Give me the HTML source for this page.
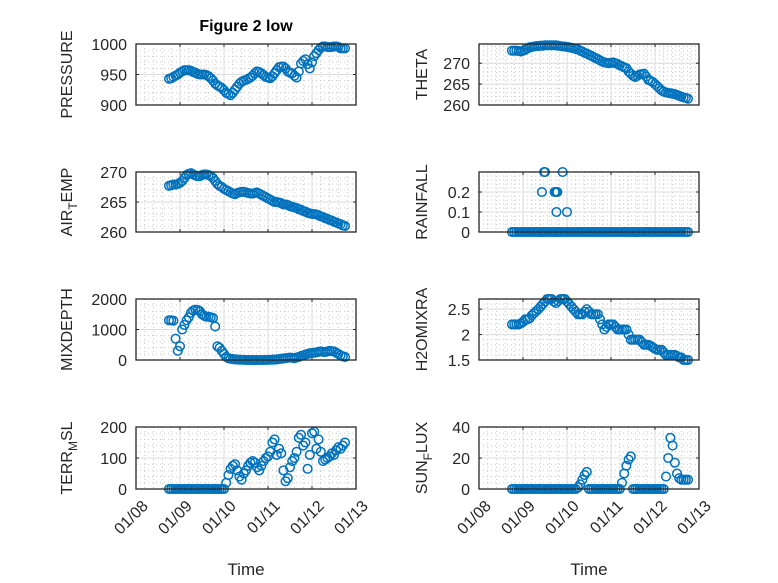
<!DOCTYPE html>
<html><head><meta charset="utf-8">
<style>
html,body{margin:0;padding:0;background:#fff;}
svg{display:block;font-family:"Liberation Sans","DejaVu Sans",sans-serif;}
</style></head>
<body>
<svg id="fig" width="778" height="583" viewBox="0 0 778 583" xmlns="http://www.w3.org/2000/svg">
<rect width="778" height="583" fill="#fff"/>
<text x="246" y="31" text-anchor="middle" font-size="16" font-weight="bold" fill="#000">Figure 2 low</text>
</svg>
<script>
// time categories (days of January), 81 samples every 0.05 day from 8.75
const times = [];
for (let i = 0; i < 81; i++) times.push(8.75 + 0.05 * i);
const xTickLabels = ["01/08","01/09","01/10","01/11","01/12","01/13"];
const xTickValues = [8,9,10,11,12,13];

const pressure = [943,944,946,948,950,953,955,957,957,957,956,954,953,951,950,950,950,949,947,944,940,935,932,930,928,924,920,918,916,920,925,930,935,938,940,941,943,945,948,952,955,954,952,949,946,945,944,947,952,957,962,963,963,960,955,953,952,948,945,955,968,972,975,967,960,970,980,985,990,994,996,996,995,995,995,996,996,995,993,993,993];
const airTemp = [267.7,267.8,267.9,267.9,268.0,268.2,268.5,269.0,269.5,269.7,269.8,269.6,269.4,269.3,269.3,269.5,269.6,269.6,269.5,269.3,269.0,268.5,268.0,267.7,267.5,267.2,267.0,266.8,266.6,266.4,266.3,266.5,266.6,266.7,266.7,266.6,266.5,266.4,266.4,266.5,266.6,266.4,266.2,266.0,265.8,265.6,265.4,265.2,265.0,265.0,264.9,264.8,264.6,264.6,264.5,264.3,264.2,264.1,264.0,263.8,263.7,263.5,263.4,263.2,263.1,263.0,263.0,262.9,262.8,262.6,262.5,262.3,262.2,262.0,261.9,261.7,261.6,261.4,261.3,261.1,261.0];
const mixDepth = [1300,1300,1290,700,300,450,1000,1150,1300,1400,1550,1620,1650,1640,1600,1500,1450,1420,1420,1400,1380,1100,450,400,300,200,100,60,40,30,20,15,10,8,5,3,0,0,0,0,0,0,0,0,3,5,8,10,15,20,30,40,50,60,70,80,70,60,80,100,130,150,180,200,220,230,240,250,270,280,270,260,280,300,290,280,240,200,150,120,100];
const terrMsl = [0,0,0,0,0,0,0,0,0,0,0,0,0,0,0,0,0,0,0,0,0,0,0,0,0,0,20,45,65,75,80,60,40,30,50,60,75,85,90,85,70,60,75,90,100,105,120,150,160,110,130,115,60,25,35,70,90,100,120,165,175,140,150,65,110,180,185,130,160,120,90,95,100,105,115,110,125,135,130,140,150];
const theta = [273.0,273.0,273.0,272.9,272.8,273.0,273.2,273.5,273.8,273.9,274.0,274.1,274.1,274.2,274.2,274.3,274.3,274.3,274.3,274.3,274.3,274.2,274.1,274.0,274.0,273.9,273.8,273.7,273.6,273.4,273.3,273.0,272.8,272.5,272.3,272.0,271.8,271.5,271.2,271.0,270.7,270.4,270.2,270.1,270.0,270.1,270.2,270.0,269.8,269.5,269.3,269.0,268.8,268.0,267.5,267.0,266.7,267.0,267.3,267.4,267.5,266.8,266.0,265.8,265.5,265.0,264.5,264.0,263.5,263.2,263.0,262.9,262.8,262.7,262.6,262.4,262.2,262.0,261.8,261.7,261.5];
const rainfall = [0,0,0,0,0,0,0,0,0, 0,0,0,0,0,0,0,0,0, 0,0,0,0,0,0,0,0,0, 0,0,0,0,0,0,0,0,0, 0,0,0,0,0,0,0,0,0, 0,0,0,0,0,0,0,0,0, 0,0,0,0,0,0,0,0,0, 0,0,0,0,0,0,0,0,0, 0,0,0,0,0,0,0,0,0];
const rainEventTimes = [9.43,9.48,9.50,9.72,9.75,9.78,9.76,9.90,10.0,9.47,9.8];
const rainEventValues = [0.2,0.3,0.3,0.2,0.2,0.2,0.1,0.3,0.1,0,0];
const h2oMixra = [2.2,2.2,2.2,2.2,2.22,2.25,2.3,2.3,2.32,2.38,2.42,2.46,2.5,2.55,2.6,2.65,2.7,2.7,2.7,2.65,2.62,2.66,2.7,2.7,2.7,2.65,2.6,2.55,2.5,2.45,2.4,2.4,2.4,2.45,2.5,2.45,2.4,2.4,2.4,2.4,2.3,2.2,2.1,2.15,2.2,2.2,2.2,2.15,2.1,2.1,2.1,2.1,2.1,2.0,1.9,1.9,1.9,1.9,1.9,1.85,1.8,1.8,1.8,1.78,1.75,1.72,1.7,1.7,1.7,1.65,1.6,1.6,1.6,1.6,1.6,1.58,1.55,1.55,1.5,1.5,1.5];
const sunFlux = [0,0,0,0,0,0,0,0,0,0,0,0,0,0,0,0,0,0,0,0,0,0,0,0,0,0,0,0,0,0,1,3,6,9,11,0,0,0,0,0,0,0,0,0,0,0,0,0,0,0,4,10,15,19,21,0,0,0,0,0,0,0,0,0,0,0,0,0,0,0,8,20,33,28,17,10,7,6,6,6,6];

const pressureTicks = [900,950,1000];
const thetaTicks = [260,265,270];
const airTempTicks = [260,265,270];
const rainTicks = [0,0.1,0.2];
const mixTicks = [0,1000,2000];
const h2oTicks = [1.5,2,2.5];
const terrTicks = [0,100,200];
const sunTicks = [0,20,40];

const NS = "http://www.w3.org/2000/svg";
const svg = document.getElementById('fig');
function mk(tag, attrs, parent){
  const e = document.createElementNS(NS, tag);
  for (const k in attrs) e.setAttribute(k, attrs[k]);
  (parent||svg).appendChild(e);
  return e;
}

const cols = [{l:136,r:356},{l:479,r:699}];
const rows = [{t:44,b:105},{t:172,b:232},{t:299,b:360},{t:427,b:489}];

function panel(opts){
  const c = cols[opts.col], rw = rows[opts.row];
  const g = mk('g', {});
  
  
  const xS = v => c.l + (v - 8) / 5 * (c.r - c.l);
  const yS = v => rw.b - (v - opts.ymin) / (opts.ymax - opts.ymin) * (rw.b - rw.t);
  for (let d = 8; d < 13; d++) {
    for (let k = 1; k < 5; k++) {
      const x = xS(d + k / 5);
      const ln = mk('line', {x1:x, x2:x, y1:rw.t, y2:rw.b, stroke:'#c8c8c8', 'stroke-width':1, 'stroke-dasharray':'1 3'}, g);
      
      
    }
  }
  const step = opts.ticks[1] - opts.ticks[0];
  const mstep = step / 5;
  for (let v = opts.ymin + mstep; v < opts.ymax - 1e-9; v += mstep) {
    const y = yS(v);
    const ln = mk('line', {x1:c.l, x2:c.r, y1:y, y2:y, stroke:'#c8c8c8', 'stroke-width':1, 'stroke-dasharray':'1 3'}, g);
    
    
  }
  xTickValues.forEach(v => {
    const x = xS(v);
    const ln = mk('line', {x1:x, x2:x, y1:rw.t, y2:rw.b, stroke:'#dcdcdc', 'stroke-width':1}, g);
    
    
    const tk = mk('line', {x1:x, x2:x, y1:rw.b, y2:rw.b-3, stroke:'#262626', 'stroke-width':1}, g);
    
    
    const tk2 = mk('line', {x1:x, x2:x, y1:rw.t, y2:rw.t+3, stroke:'#262626', 'stroke-width':1}, g);
    
    
  });
  opts.ticks.forEach(v => {
    const y = yS(v);
    const ln = mk('line', {x1:c.l, x2:c.r, y1:y, y2:y, stroke:'#dcdcdc', 'stroke-width':1}, g);
    
    
    const tk = mk('line', {x1:c.l, x2:c.l+3, y1:y, y2:y, stroke:'#262626', 'stroke-width':1}, g);
    
    
    const tk2 = mk('line', {x1:c.r, x2:c.r-3, y1:y, y2:y, stroke:'#262626', 'stroke-width':1}, g);
    
    
    const t = mk('text', {x:c.l-9, y:y+6, 'text-anchor':'end', 'font-size':16, fill:'#262626'}, g);
    
    
    t.textContent = String(v);
  });
  const pts = mk('g', {}, g);
  
  
  const drawPts = (ts, vs) => {
    ts.forEach((tv, i) => {
      const ci = mk('circle', {cx:xS(tv), cy:yS(vs[i]), r:4.3, fill:'none', stroke:'#0072BD', 'stroke-width':1.5}, pts);
      
      
    });
  };
  drawPts(times, opts.data);
  if (opts.extraT) drawPts(opts.extraT, opts.extraV);
  const bx = mk('rect', {x:c.l, y:rw.t, width:c.r-c.l, height:rw.b-rw.t, fill:'none', stroke:'#262626', 'stroke-width':1.3}, g);
  
  
  const lx = opts.col === 0 ? 72 : 427;
  const ly = (rw.t + rw.b) / 2;
  const yl = mk('text', {x:lx, y:ly, 'text-anchor':'middle', 'font-size':16, fill:'#262626', transform:`rotate(-90 ${lx} ${ly})`}, g);
  
  
  if (opts.sub) {
    const a = mk('tspan', {}, yl); a.textContent = opts.sub[0];
    const b = mk('tspan', {dy:5, 'font-size':12}, yl); b.textContent = opts.sub[1];
    const d = mk('tspan', {dy:-5}, yl); d.textContent = opts.sub[2];
  } else {
    yl.textContent = opts.label;
  }
  if (opts.row === 3) {
    xTickValues.forEach((v, i) => {
      const x = xS(v) + 5, y = rw.b + 10;
      const t = mk('text', {x:x, y:y, 'text-anchor':'end', 'font-size':16, fill:'#262626', transform:`rotate(-45 ${x} ${y})`, dy:'0.7em'}, g);
      
      
      t.textContent = xTickLabels[i];
    });
    const xt = mk('text', {x:(c.l+c.r)/2, y:575, 'text-anchor':'middle', 'font-size':17, fill:'#262626'}, g);
    
    
    xt.textContent = 'Time';
  }
}

panel({name:'pressure', col:0, row:0, ymin:900, ymax:1000, ticks:pressureTicks, data:pressure, label:'PRESSURE'});
panel({name:'theta', col:1, row:0, ymin:260, ymax:274.6, ticks:thetaTicks, data:theta, label:'THETA'});
panel({name:'air-temp', col:0, row:1, ymin:260, ymax:270, ticks:airTempTicks, data:airTemp, sub:['AIR','T','EMP']});
panel({name:'rainfall', col:1, row:1, ymin:0, ymax:0.3, ticks:rainTicks, data:rainfall, label:'RAINFALL', extraT:rainEventTimes, extraV:rainEventValues});
panel({name:'mixdepth', col:0, row:2, ymin:0, ymax:2000, ticks:mixTicks, data:mixDepth, label:'MIXDEPTH'});
panel({name:'h2omixra', col:1, row:2, ymin:1.5, ymax:2.7, ticks:h2oTicks, data:h2oMixra, label:'H2OMIXRA'});
panel({name:'terr-msl', col:0, row:3, ymin:0, ymax:200, ticks:terrTicks, data:terrMsl, sub:['TERR','M','SL']});
panel({name:'sun-flux', col:1, row:3, ymin:0, ymax:40, ticks:sunTicks, data:sunFlux, sub:['SUN','F','LUX']});
</script>
</body></html>
